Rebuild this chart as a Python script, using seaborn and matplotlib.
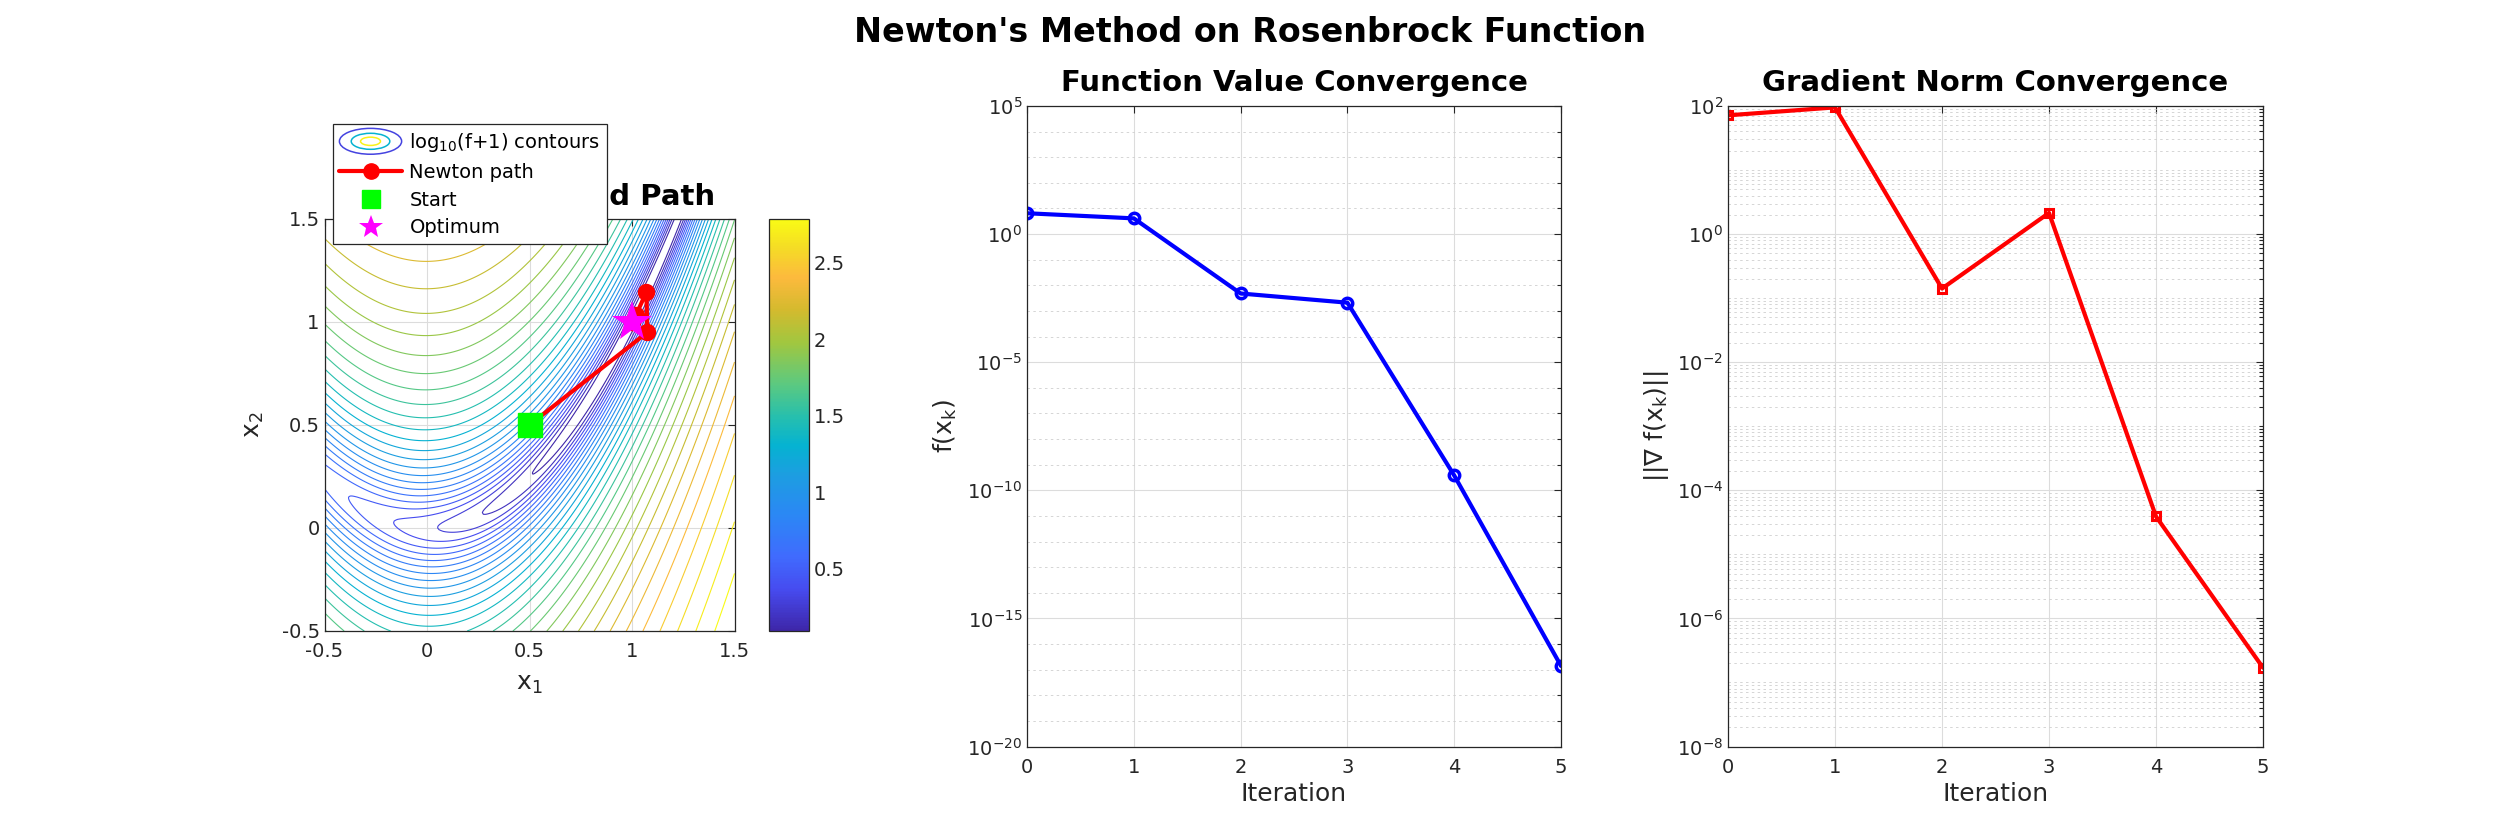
import numpy as np
import matplotlib
matplotlib.use("Agg")
import matplotlib.pyplot as plt
import seaborn as sns
from matplotlib import ticker
from matplotlib.colors import LinearSegmentedColormap, Normalize
from matplotlib.legend_handler import HandlerBase
from matplotlib.lines import Line2D
from matplotlib.patches import Ellipse

# values
iterations = [0, 1, 2, 3, 4, 5]
f_values = [6.5, 4.1, 4.8e-3, 2.1e-3, 3.8e-10, 1.4e-17]
grad_norms = [71.4, 95.0, 0.141, 2.14, 3.9e-5, 1.7e-7]

path_x1 = [0.5, 1.075, 1.07, 1.02, 1.0, 1.0]
path_x2 = [0.5, 0.95, 1.145, 1.035, 1.0, 1.0]
start_point = [0.5, 0.5]
optimum_point = [1.0, 1.0]

domain = [-0.5, 1.5]
domain_ticks = [-0.5, 0, 0.5, 1, 1.5]
domain_tick_labels = ["-0.5", "0", "0.5", "1", "1.5"]
cbar_ticks = [0.5, 1, 1.5, 2, 2.5]
cbar_tick_labels = ["0.5", "1", "1.5", "2", "2.5"]
n_levels = 30
fval_major_exp = [5, 0, -5, -10, -15, -20]
grad_major_exp = [2, 0, -2, -4, -6, -8]

# approximation of MATLAB's parula
parula = LinearSegmentedColormap.from_list("parula", [
    (0.00, (0.2422, 0.1504, 0.6603)),
    (0.10, (0.2770, 0.2950, 0.9400)),
    (0.18, (0.2500, 0.4200, 0.9950)),
    (0.28, (0.1700, 0.5300, 0.9600)),
    (0.38, (0.1100, 0.6200, 0.8800)),
    (0.45, (0.0200, 0.7000, 0.8200)),
    (0.52, (0.1500, 0.7500, 0.6800)),
    (0.60, (0.3600, 0.7900, 0.5000)),
    (0.70, (0.6300, 0.7800, 0.2500)),
    (0.78, (0.8300, 0.7300, 0.1800)),
    (0.86, (0.9900, 0.7300, 0.2400)),
    (0.93, (0.9600, 0.8600, 0.1500)),
    (1.00, (0.9769, 0.9839, 0.0805)),
])

DARK = "#262626"


class ContourKey:
    pass


class ContourHandler(HandlerBase):
    def create_artists(self, legend, orig_handle, xdescent, ydescent,
                       width, height, fontsize, trans):
        cx = width / 2 - xdescent
        cy = height / 2 - ydescent
        arts = []
        for frac, col in [(1.0, parula(0.08)), (0.62, parula(0.45)),
                          (0.32, parula(0.98))]:
            e = Ellipse((cx, cy), width * frac, height * 1.9 * frac,
                        fill=False, edgecolor=col, lw=1.1, transform=trans)
            arts.append(e)
        return arts


def style_axes(ax):
    ax.tick_params(which="both", direction="in", top=True, right=True,
                   colors=DARK, labelsize=14, width=0.8)
    ax.tick_params(which="major", length=5)
    ax.tick_params(which="minor", length=3)
    ax.tick_params(axis="x", which="both", pad=8)
    for sp in ax.spines.values():
        sp.set_color(DARK)
        sp.set_linewidth(0.9)
    ax.set_axisbelow(True)


sns.set_theme(style="white")
plt.rcParams["font.family"] = ["DejaVu Sans"]
plt.rcParams["mathtext.fontset"] = "dejavusans"

fig = plt.figure(figsize=(25, 8.33), dpi=100)
ax1 = fig.add_axes([0.1298, 0.2425, 0.164, 0.4946])
cax = fig.add_axes([0.3076, 0.2425, 0.016, 0.4946])
ax2 = fig.add_axes([0.4108, 0.1038, 0.2136, 0.769])
ax3 = fig.add_axes([0.6912, 0.1038, 0.214, 0.769])

# ---- left: contours of log10(f+1) with Newton path
g = np.linspace(domain[0], domain[1], 241)
X1, X2 = np.meshgrid(g, g)
Z = np.log10((1 - X1) ** 2 + 100 * (X2 - X1 ** 2) ** 2 + 1)
levels = np.linspace(Z.min(), Z.max(), n_levels + 2)[1:-1]
norm = Normalize(levels[0], levels[-1])

ax1.contour(X1, X2, Z, levels=levels, cmap=parula, norm=norm,
            linewidths=0.8)
sns.lineplot(x=path_x1, y=path_x2, ax=ax1, sort=False, estimator=None,
             color="red", lw=3, marker="o", markersize=11,
             markeredgecolor="red", markeredgewidth=1.5, zorder=3)
ax1.plot(start_point[0], start_point[1], "s", color=(0, 1, 0),
         markersize=17, zorder=4)
ax1.plot(optimum_point[0], optimum_point[1], "*", color=(1, 0, 1),
         markersize=30, markeredgewidth=0, zorder=5)

ax1.set_xlim(domain)
ax1.set_ylim(domain)
ax1.set_xticks(domain_ticks, domain_tick_labels)
ax1.set_yticks(domain_ticks, domain_tick_labels)
ax1.grid(True, color="#dcdcdc", lw=0.8)
style_axes(ax1)
ax1.set_xlabel("x$_\\mathregular{1}$", fontsize=18, color=DARK, labelpad=8)
ax1.set_ylabel("x$_\\mathregular{2}$", fontsize=18, color=DARK, labelpad=11)
ax1.set_title("Newton's Method Path", fontsize=21, fontweight="bold",
              pad=10, color="black")

cb = fig.colorbar(plt.cm.ScalarMappable(norm=norm, cmap=parula), cax=cax,
                  ticks=cbar_ticks)
cb.set_ticklabels(cbar_tick_labels)
cb.outline.set_edgecolor(DARK)
cb.outline.set_linewidth(0.9)
cax.tick_params(direction="in", length=5, width=0.8, colors=DARK,
                labelsize=14)

handles = [
    ContourKey(),
    Line2D([], [], color="red", lw=3, marker="o", markersize=11,
           markeredgecolor="red"),
    Line2D([], [], ls="none", marker="s", color=(0, 1, 0), markersize=13),
    Line2D([], [], ls="none", marker="*", color=(1, 0, 1), markersize=18,
           markeredgewidth=0),
]
labels = ["log$_\\mathregular{10}$(f+1) contours", "Newton path", "Start",
          "Optimum"]
leg = ax1.legend(handles, labels, handler_map={ContourKey: ContourHandler()},
                 loc="upper left", bbox_to_anchor=(332.6 / 2500, 1 - 124.3 / 833),
                 bbox_transform=fig.transFigure, fontsize=14, handlelength=3.2,
                 handletextpad=0.4, labelspacing=0.45, borderpad=0.35,
                 borderaxespad=0, fancybox=False, framealpha=1,
                 edgecolor=DARK)
leg.get_frame().set_linewidth(0.9)
for t in leg.get_texts():
    t.set_color("black")

# ---- middle: function value
sns.lineplot(x=iterations, y=f_values, ax=ax2, color="blue", lw=3,
             marker="o", markersize=7.5, markerfacecolor="none",
             markeredgecolor="blue", markeredgewidth=2.5)
ax2.set_yscale("log")
ax2.set_xlim(0, 5)
ax2.set_ylim(1e-20, 1e5)
ax2.set_xticks(iterations, [str(i) for i in iterations])
ax2.yaxis.set_major_locator(ticker.FixedLocator([10.0 ** e for e in fval_major_exp]))
ax2.yaxis.set_minor_locator(ticker.FixedLocator(
    [10.0 ** e for e in range(-20, 6) if e not in fval_major_exp]))
ax2.yaxis.set_minor_formatter(ticker.NullFormatter())
ax2.grid(True, which="major", color="#dcdcdc", lw=0.8)
ax2.grid(True, which="minor", axis="y", color="#cfcfcf", lw=0.6,
         ls=(0, (3, 4)))
style_axes(ax2)
ax2.set_xlabel("Iteration", fontsize=18, color=DARK)
ax2.set_ylabel("f(x$_\\mathregular{k}$)", fontsize=18, color=DARK, labelpad=6)
ax2.set_title("Function Value Convergence", fontsize=21, fontweight="bold",
              pad=11, color="black")

# ---- right: gradient norm
sns.lineplot(x=iterations, y=grad_norms, ax=ax3, color="red", lw=3,
             marker="s", markersize=5.5, markerfacecolor="none",
             markeredgecolor="red", markeredgewidth=2.2)
ax3.set_yscale("log")
ax3.set_xlim(0, 5)
ax3.set_ylim(1e-8, 1e2)
ax3.set_xticks(iterations, [str(i) for i in iterations])
ax3.yaxis.set_major_locator(ticker.FixedLocator([10.0 ** e for e in grad_major_exp]))
ax3.yaxis.set_minor_locator(ticker.LogLocator(base=10, subs=np.arange(1, 10),
                                              numticks=100))
ax3.yaxis.set_minor_formatter(ticker.NullFormatter())
ax3.grid(True, which="major", color="#dcdcdc", lw=0.8)
ax3.grid(True, which="minor", axis="y", color="#cfcfcf", lw=0.6,
         ls=(0, (3, 4)))
style_axes(ax3)
ax3.set_xlabel("Iteration", fontsize=18, color=DARK)
ax3.set_ylabel("||\u2207 f(x$_\\mathregular{k}$)||", fontsize=18, color=DARK)
ax3.set_title("Gradient Norm Convergence", fontsize=21, fontweight="bold",
              pad=11, color="black")

fig.suptitle("Newton's Method on Rosenbrock Function", fontsize=24,
             fontweight="bold", x=0.5, y=1 - 41.7 / 833, va="baseline",
             color="black")

fig.savefig("out.png", dpi=100)
